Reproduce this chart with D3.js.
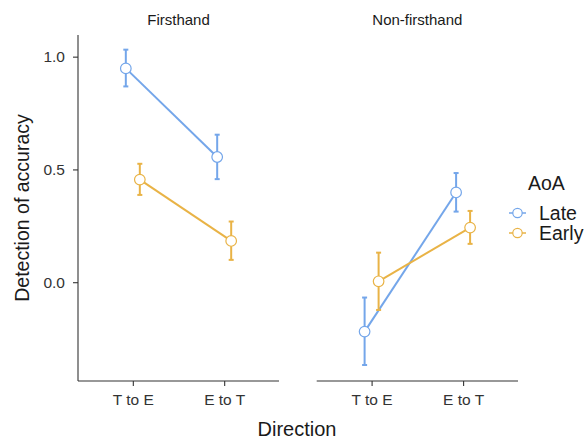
<!DOCTYPE html>
<html><head><meta charset="utf-8">
<script src="https://cdn.jsdelivr.net/npm/d3@7"></script>
<style>body{margin:0;background:#fff}text{font-family:"Liberation Sans",Arial,sans-serif}</style>
</head><body>
<svg id="c" width="587" height="440"></svg>
<script>
const panels = ["Firsthand", "Non-firsthand"];
const directions = ["T to E", "E to T"];
const groups = ["Late", "Early"];
const colors = ["#74a6ea", "#e9b346"];
// values per panel, per group, per direction
const means = {
  "Firsthand":     {"Late": [0.948, 0.555], "Early": [0.455, 0.183]},
  "Non-firsthand": {"Late": [-0.219, 0.398], "Early": [0.004, 0.242]}
};
const lowers = {
  "Firsthand":     {"Late": [0.868, 0.457], "Early": [0.387, 0.099]},
  "Non-firsthand": {"Late": [-0.367, 0.313], "Early": [-0.123, 0.170]}
};
const uppers = {
  "Firsthand":     {"Late": [1.031, 0.654], "Early": [0.525, 0.269]},
  "Non-firsthand": {"Late": [-0.068, 0.484], "Early": [0.131, 0.316]}
};
const yTicks = [0.0, 0.5, 1.0];

const svg = d3.select("#c");
const plotTop = 35, plotBottom = 381;
const y = d3.scaleLinear().domain([-0.438, 1.096]).range([plotBottom, plotTop]);
const panelX = [[78, 279], [316.7, 518]];
const dodge = 7;
const axisCol = "#333";
const FONT = "Liberation Sans, Arial, sans-serif";

panels.forEach((p, pi) => {
  const [x0, x1] = panelX[pi];
  const x = d3.scalePoint().domain(directions).range([x0, x1]).padding(0.6);
  const g = svg.append("g");
  g.append("text").attr("x", (x0 + x1) / 2).attr("y", 25).attr("text-anchor", "middle")
    .attr("font-size", 15).attr("fill", "#1a1a1a").text(p);
  const xa = g.append("g").attr("transform", `translate(0,${plotBottom})`)
    .call(d3.axisBottom(x).tickSize(5).tickPadding(8));
  xa.select(".domain").attr("stroke", axisCol).attr("stroke-width", 1.1).attr("d", `M${x0},0H${x1}`);
  xa.selectAll(".tick line").attr("stroke", axisCol).attr("stroke-width", 1.1);
  xa.selectAll(".tick text").attr("font-size", 15.5).attr("fill", "#333").attr("font-family", FONT);
  if (pi === 0) {
    const ya = g.append("g").attr("transform", `translate(${x0},0)`)
      .call(d3.axisLeft(y).tickValues(yTicks).tickFormat(d3.format(".1f")).tickSize(5).tickPadding(8));
    ya.select(".domain").attr("stroke", axisCol).attr("stroke-width", 1.1).attr("d", `M0,${plotTop}V${plotBottom}`);
    ya.selectAll(".tick line").attr("stroke", axisCol).attr("stroke-width", 1.1);
    ya.selectAll(".tick text").attr("font-size", 15.5).attr("fill", "#333").attr("font-family", FONT);
  }
  groups.forEach((grp, gi) => {
    const off = gi === 0 ? -dodge : dodge;
    const col = colors[gi];
    const pts = directions.map((d, di) => ({
      x: x(d) + off, m: means[p][grp][di], lo: lowers[p][grp][di], hi: uppers[p][grp][di]
    }));
    pts.forEach(pt => {
      g.append("line").attr("x1", pt.x).attr("x2", pt.x).attr("y1", y(pt.lo)).attr("y2", y(pt.hi))
        .attr("stroke", col).attr("stroke-width", 2);
      [pt.lo, pt.hi].forEach(v => g.append("line").attr("x1", pt.x - 2.5).attr("x2", pt.x + 2.5)
        .attr("y1", y(v)).attr("y2", y(v)).attr("stroke", col).attr("stroke-width", 2));
    });
    g.append("path").attr("d", d3.line().x(d => d.x).y(d => y(d.m))(pts))
      .attr("fill", "none").attr("stroke", col).attr("stroke-width", 2);
    pts.forEach(pt => g.append("circle").attr("cx", pt.x).attr("cy", y(pt.m)).attr("r", 5.3)
      .attr("fill", "#fff").attr("stroke", col).attr("stroke-width", 1.2));
  });
});

svg.append("text").attr("x", 297).attr("y", 436).attr("text-anchor", "middle")
  .attr("font-size", 20).attr("fill", "#1a1a1a").text("Direction");
svg.append("text").attr("transform", "translate(28.5,208) rotate(-90)").attr("text-anchor", "middle")
  .attr("font-size", 19.5).attr("fill", "#1a1a1a").text("Detection of accuracy");

const lg = svg.append("g");
lg.append("text").attr("x", 528).attr("y", 190).attr("font-size", 19.5).attr("fill", "#1a1a1a").text("AoA");
groups.forEach((grp, gi) => {
  const yy = 213 + gi * 20;
  const col = colors[gi];
  lg.append("line").attr("x1", 509).attr("x2", 526).attr("y1", yy).attr("y2", yy)
    .attr("stroke", col).attr("stroke-width", 1.5);
  lg.append("circle").attr("cx", 517.5).attr("cy", yy).attr("r", 4.7)
    .attr("fill", "#fff").attr("stroke", col).attr("stroke-width", 1.2);
  lg.append("text").attr("x", 539).attr("y", yy + 7).attr("font-size", 19.5).attr("fill", "#1a1a1a").text(grp);
});
</script>
</body></html>
